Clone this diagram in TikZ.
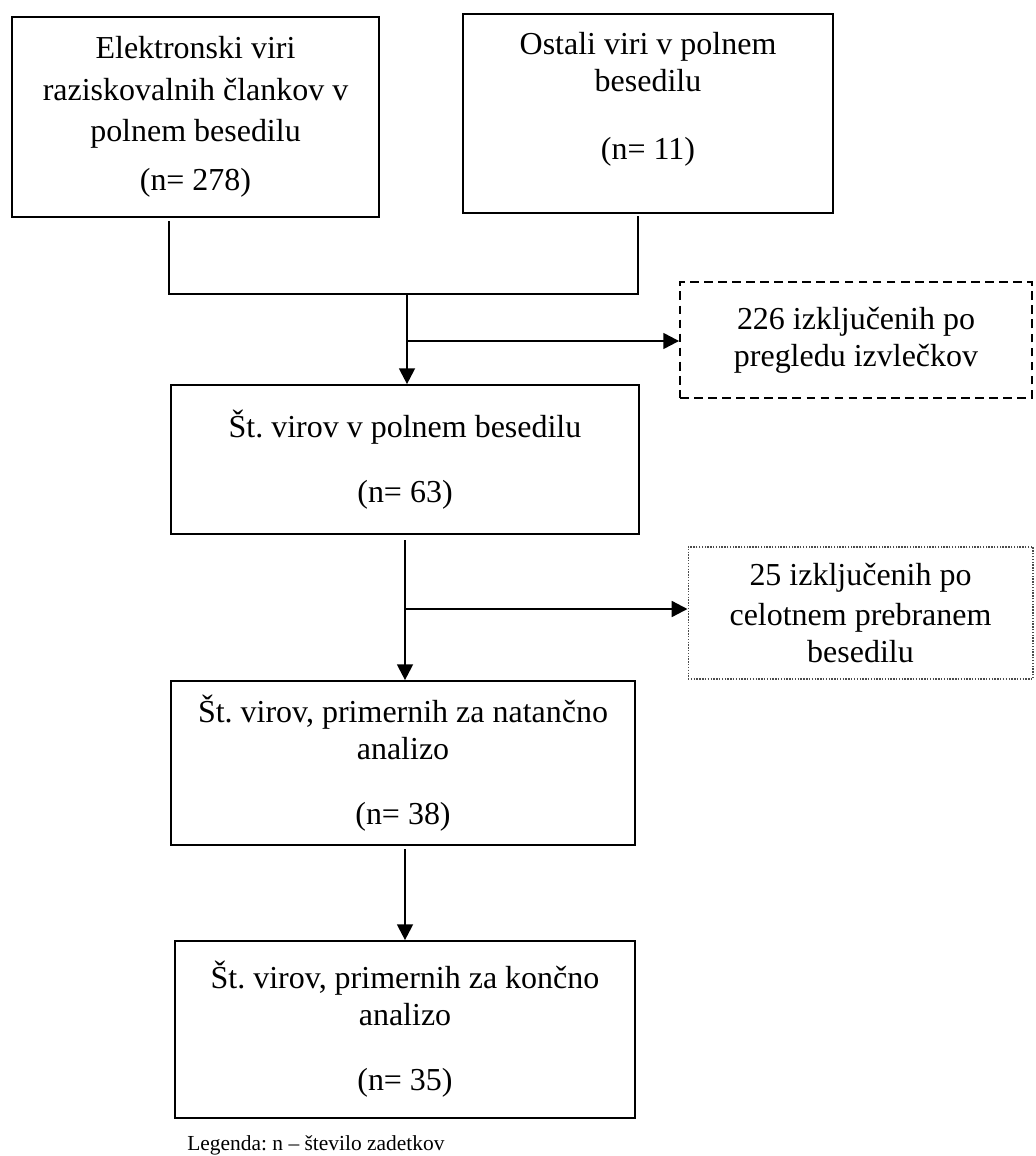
\documentclass[tikz,border=0pt]{standalone}
\usepackage{fontspec}
\setmainfont{Liberation Serif}
\usetikzlibrary{arrows.meta}
\frenchspacing

\begin{document}
\begin{tikzpicture}[x=0.02cm,y=-0.02cm,
  box/.style={draw,line width=1pt,inner sep=0pt,align=center,font=\fontsize{18.2}{21}\selectfont},
  dashbox/.style={box,dash pattern=on 5pt off 3pt,line width=1.1pt},
  dotbox/.style={box,draw=black!70,line width=0.6pt,dash pattern=on 0.8pt off 0.8pt},
  link/.style={line width=1pt},
  arr/.style={line width=1.3pt,-{Triangle[length=9pt,width=9pt]}}]
\useasboundingbox (0,0) rectangle (1035,1156);

% sources
\node[box,minimum width=7.34cm,minimum height=4cm] (src) at (195.5,117)
  {Elektronski viri\\[2.5pt]raziskovalnih člankov v\\[2.5pt]polnem besedilu\\[7pt](n= 278)};
\node[box,minimum width=7.4cm,minimum height=3.98cm] (oth) at (648,113.5)
  {Ostali viri v polnem\\besedilu\\[17.6pt](n= 11)\\[-1pt]\mbox{}};

% main column
\node[box,minimum width=9.36cm,minimum height=2.98cm] (scr) at (405,459.5)
  {Št. virov v polnem besedilu\\[16pt](n= 63)};
\node[box,minimum width=9.28cm,minimum height=3.28cm] (full) at (403,763)
  {Št. virov, primernih za natančno\\analizo\\[16pt](n= 38)};
\node[box,minimum width=9.2cm,minimum height=3.54cm] (fin) at (405,1029.5)
  {Št. virov, primernih za končno\\analizo\\[16pt](n= 35)};

% excluded
\node[dashbox,minimum width=7.04cm,minimum height=2.32cm] (excl1) at (856,340)
  {226 izključenih po\\pregledu izvlečkov};
\node[dotbox,minimum width=6.9cm,minimum height=2.64cm] (excl2) at (860.5,613)
  {25 izključenih po\\[1.7pt]celotnem prebranem\\besedilu};

\node[anchor=west,inner sep=0pt,font=\fontsize{12.2}{14}\selectfont] (legend) at (187,1145)
  {Legenda: n -- število zadetkov};

\coordinate (jl) at (169,294);
\coordinate (jr) at (638,294);
\coordinate (merge) at (407,294);
\coordinate (split1) at (407,341);
\coordinate (split2) at (405,609);

\draw[link] ([yshift=-2pt]src.south -| jl) -- (jl) -- (jr) -- ([yshift=-1pt]oth.south -| jr);
\draw[arr] (merge) -- (merge |- scr.north);
\draw[arr] (split1) -- (split1 -| excl1.west);
\draw[arr] ([yshift=-3pt]scr.south -| split2) -- (split2 |- full.north);
\draw[arr] (split2) -- (split2 -| excl2.west);
\draw[arr] ([yshift=-2pt]full.south -| split2) -- (split2 |- fin.north);
\end{tikzpicture}
\end{document}
